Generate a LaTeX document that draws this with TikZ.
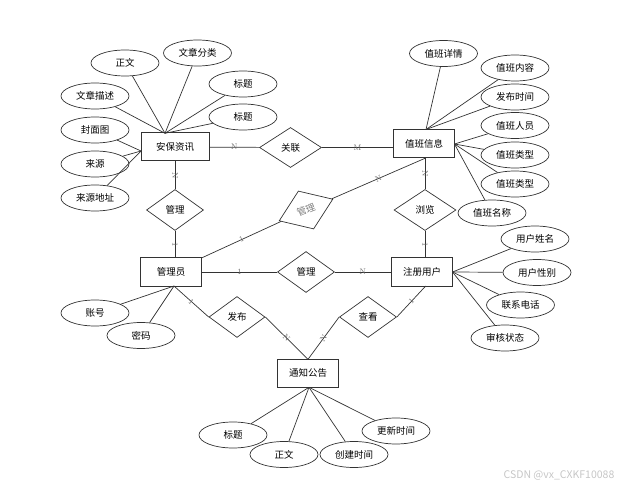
\documentclass[tikz,border=0pt]{standalone}
\usepackage{fontspec}
\newfontfamily\cjk{Noto Sans CJK SC}
\usetikzlibrary{shapes.geometric}
\begin{document}
\begin{tikzpicture}[x=1pt,y=-1pt]

      \useasboundingbox (0,0) rectangle (626,486);

      \begin{scope}[every node/.style={draw=black!80, rectangle, line width=1pt, minimum width=61pt, minimum height=28pt, font=\cjk\fontsize{9.5}{11}\selectfont}]
        \node (e1) at (175,147) [minimum width=68pt] {安保资讯};
        \node (e2) at (424,144) {值班信息};
        \node (e3) at (171,272) {管理员};
        \node (e4) at (422,272) {注册用户};
        \node (e5) at (308,373) {通知公告};
      \end{scope}

      \begin{scope}[every node/.style={draw=black!80, diamond, line width=.7pt, inner sep=0pt, minimum width=57pt, minimum height=41pt, font=\cjk\fontsize{9.5}{11}\selectfont}]
        \node (r1) at (290.5,147.5) [minimum width=62pt, minimum height=40pt] {关联};
        \node (r2) at (175,210) {管理};
        \node (r3) at (306,210) [rotate=22, text=gray, minimum width=58pt] {管理};
        \node (r4) at (425,210) [minimum width=62pt] {浏览};
        \node (r5) at (306,272) {管理};
        \node (r6) at (237,317) [minimum width=56pt] {发布};
        \node (r7) at (368,317) {查看};
      \end{scope}

      \begin{scope}[every node/.style={draw=black!80, ellipse, line width=.7pt, inner sep=0pt, minimum width=68pt, minimum height=26pt, font=\cjk\fontsize{9.5}{11}\selectfont}]
        \node (a1) at (125,63) {正文};
        \node (a2) at (197.5,53) {文章分类};
        \node (a3) at (243,84) {标题};
        \node (a4) at (95,96) {文章描述};
        \node (a5) at (243,117) {标题};
        \node (a6) at (95,130) {封面图};
        \node (a7) at (95,164) {来源};
        \node (a8) at (95,198) {来源地址};
        \node (b1) at (443.5,53.5) {值班详情};
        \node (b2) at (515,68) {值班内容};
        \node (b3) at (515,97) {发布时间};
        \node (b4) at (515,125.5) {值班人员};
        \node (b5) at (515,155) {值班类型};
        \node (b6) at (515,184) {值班类型};
        \node (b7) at (492,213) {值班名称};
        \node (c1) at (535,239) {用户姓名};
        \node (c2) at (537,272.5) {用户性别};
        \node (c3) at (520.5,305) {联系电话};
        \node (c4) at (505,338) {审核状态};
        \node (d1) at (95,313) {账号};
        \node (d2) at (141,335.5) {密码};
        \node (f1) at (233,435) {标题};
        \node (f2) at (284,454.5) {正文};
        \node (f3) at (354,454.5) {创建时间};
        \node (f4) at (396,431) {更新时间};
      \end{scope}

      \coordinate (e1t) at (165,133.3);
      \coordinate (e1l) at (141,151);
      \coordinate (e2t) at (426,129.5);
      \coordinate (e2r) at (454.5,144);
      \coordinate (e2b) at (425,158.3);
      \coordinate (e3b) at (174,286);
      \coordinate (e4r) at (452.5,272);
      \coordinate (e4b) at (425.7,286);
      \coordinate (e5t) at (308,359.3);
      \coordinate (e5b) at (309,387.3);

      \begin{scope}[every edge/.style={draw=black!80, line width=.7pt}]
        \path (a1) edge (e1t);
        \path (a2) edge (e1t);
        \path (a3) edge (e1t);
        \path (a4) edge (e1t);
        \path (a5) edge (e1t);
        \path (a6) edge (e1l);
        \path (a7) edge (e1l);
        \path (a8) edge (e1l);
        \path (b1) edge (e2t);
        \path (b2) edge (e2t);
        \path (b3) edge (e2t);
        \path (b4) edge (e2r);
        \path (b5) edge (e2r);
        \path (b6) edge (e2r);
        \path (b7) edge (e2r);
        \path (c1) edge (e4r);
        \path (c2) edge (e4r);
        \path (c3) edge (e4r);
        \path (c4) edge (e4r);
        \path (d1) edge (e3b);
        \path (d2) edge (e3b);
        \path (f1) edge (e5b);
        \path (f2) edge (e5b);
        \path (f3) edge (e5b);
        \path (f4) edge (e5b);

        \begin{scope}[every node/.style={font=\footnotesize, text=black!60, sloped, inner sep=1pt}]
          \path (e1) edge node {N} (r1);
          \path (r1) edge node {M} (r1 -| e2.west);
          \path (e1) edge node {N} (r2);
          \path (r2) edge node {1} (r2 |- e3.north);
          \path (e3) edge node {1} (r3);
          \path (r3) edge node {N} (e2b);
          \path (e2b) edge node {N} (r4);
          \path (r4) edge node {1} (r4 |- e4.north);
          \path (e3) edge node {1} (r5);
          \path (r5) edge node {N} (e4);
          \path (e3b) edge node {1} (r6.west);
          \path (r6.east) edge node {N} (e5t);
          \path (e4b) edge node {1} (r7.east);
          \path (r7.west) edge node {N} (e5t);
        \end{scope}
      \end{scope}

      \node (wm) at (559,475) [text=gray!45, font=\cjk\fontsize{10.5}{12}\selectfont] {CSDN @vx\_CXKF10088};

    \end{tikzpicture}
\end{document}
